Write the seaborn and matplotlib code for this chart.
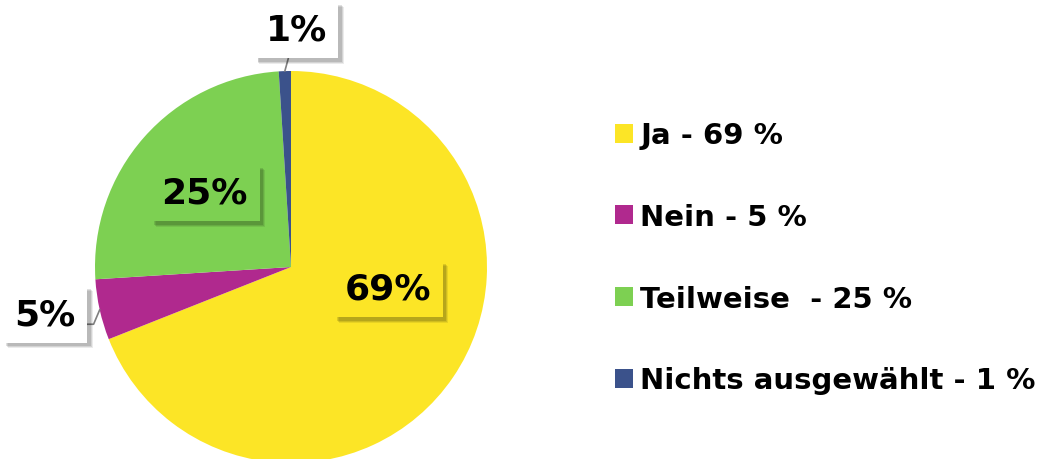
import numpy as np
import matplotlib
matplotlib.use("Agg")
import matplotlib.pyplot as plt
import matplotlib.patheffects as pe
import seaborn as sns

# data
categories = ["Ja", "Nein", "Teilweise", "Nichts ausgewählt"]
shares = [69, 5, 25, 1]
slice_labels = ["69%", "5%", "25%", "1%"]
legend_labels = ["Ja - 69 %", "Nein - 5 %", "Teilweise  - 25 %", "Nichts ausgewählt - 1 %"]
colors = ["#FCE526", "#B0298E", "#7DD052", "#3B528B"]

sns.set_theme(style="white")
plt.rcParams['font.family'] = ['DejaVu Sans']
plt.rcParams['text.color'] = 'black'

W, H = 1040, 460
fig = plt.figure(figsize=(W / 100, H / 100), dpi=100)
cx, cy, r = 291, 268, 196
ax = fig.add_axes([(cx - r) / W, (H - cy - r) / H, 2 * r / W, 2 * r / H])

wedges, _ = ax.pie(shares, colors=colors, startangle=90, counterclock=False,
                   radius=1, wedgeprops=dict(linewidth=0))
ax.set_xlim(-1, 1)
ax.set_ylim(-1, 1)
ax.set_aspect('equal')
ax.axis('off')

# soft drop shadow for the label boxes
shadow = [pe.SimplePatchShadow(offset=(o, -o), shadow_rgbFace='black', alpha=a)
          for o, a in [(4.0, 0.08), (3.3, 0.1), (2.6, 0.12)]] + [pe.Normal()]

# label positions (axes data units) and box fill
label_pos = {"Ja": (0.495, -0.11), "Nein": (-1.255, -0.24),
             "Teilweise": (-0.44, 0.38), "Nichts ausgewählt": (0.026, 1.21)}
box_fill = {"Ja": colors[0], "Nein": "white", "Teilweise": colors[2], "Nichts ausgewählt": "white"}

for w, cat, lab in zip(wedges, categories, slice_labels):
    tx, ty = label_pos[cat]
    mid = np.deg2rad((w.theta1 + w.theta2) / 2)
    ex, ey = np.cos(mid), np.sin(mid)
    box = dict(boxstyle='square,pad=0.32', fc=box_fill[cat], ec='none')
    if cat == "Nichts ausgewählt":
        t = ax.annotate(lab, xy=(ex, ey), xytext=(tx, ty), ha='center', va='center',
                        fontsize=26, fontweight='bold', color='black', bbox=box,
                        arrowprops=dict(arrowstyle='-', color='#7f7f7f', lw=1.2, shrinkA=0, shrinkB=0))
    elif cat == "Nein":
        t = ax.annotate(lab, xy=(ex, ey), xytext=(tx, ty), ha='center', va='center',
                        fontsize=26, fontweight='bold', color='black', bbox=box,
                        arrowprops=dict(arrowstyle='-', color='#7f7f7f', lw=1.2, shrinkA=0, shrinkB=0,
                                        relpos=(1, 0.2),
                                        connectionstyle="angle,angleA=0,angleB=67,rad=0"))
    else:
        t = ax.text(tx, ty, lab, ha='center', va='center', fontsize=26, fontweight='bold',
                    color='black', bbox=box)
    t.get_bbox_patch().set_path_effects(shadow)

leg = fig.legend(wedges, legend_labels, loc='center left', bbox_to_anchor=(0.566, 0.437),
                 frameon=False, prop=dict(size=21, weight='bold'), labelcolor='black',
                 handlelength=0.62, handleheight=0.62, handletextpad=0.25, labelspacing=1.84)

fig.savefig("out.png", dpi=100)
